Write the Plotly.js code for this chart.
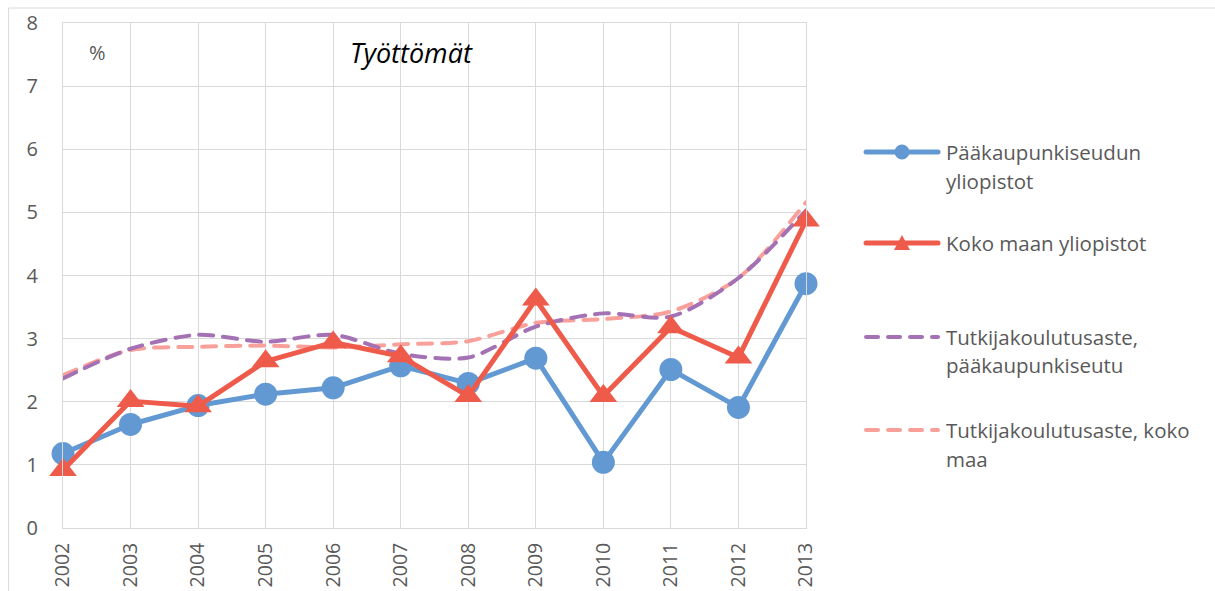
<!DOCTYPE html>
<html>
<head>
<meta charset="utf-8">
<script src="https://cdn.plot.ly/plotly-3.0.1.min.js"></script>
<style>
  html, body { margin: 0; padding: 0; background: #fff; }
  #chart { width: 1215px; height: 591px; }
  .scatterlayer .js-line { stroke-linecap: round; stroke-linejoin: round; }
  .shapelayer path { stroke-linecap: round; }
</style>
</head>
<body>
<div id="chart"></div>
<script>
const years = [2002, 2003, 2004, 2005, 2006, 2007, 2008, 2009, 2010, 2011, 2012, 2013];
const yTicks = [0, 1, 2, 3, 4, 5, 6, 7, 8];
const seriesNames = [
  "Pääkaupunkiseudun yliopistot",
  "Koko maan yliopistot",
  "Tutkijakoulutusaste, pääkaupunkiseutu",
  "Tutkijakoulutusaste, koko maa"
];
const legendLines = [
  ["Pääkaupunkiseudun", "yliopistot"],
  ["Koko maan yliopistot"],
  ["Tutkijakoulutusaste,", "pääkaupunkiseutu"],
  ["Tutkijakoulutusaste, koko", "maa"]
];
const pkYliopistot = [1.18, 1.64, 1.94, 2.12, 2.22, 2.57, 2.29, 2.69, 1.04, 2.51, 1.91, 3.87];
const kokoMaaYliopistot = [0.92, 2.01, 1.93, 2.64, 2.94, 2.72, 2.09, 3.62, 2.09, 3.18, 2.70, 4.87];
const tutkijaPk = [2.37, 2.84, 3.06, 2.95, 3.06, 2.76, 2.70, 3.19, 3.40, 3.35, 3.96, 5.03];
const tutkijaKoko = [2.42, 2.82, 2.87, 2.89, 2.86, 2.91, 2.96, 3.25, 3.31, 3.43, 3.96, 5.16];
const chartTitle = "Työttömät";
const unitLabel = "%";

const blue = "#6399d3", red = "#ee5b4b", purple = "#a371b4", pink = "#f9a09a";
const txt = "#595959", grid = "#d9d9d9";
const FONT = "Open Sans, sans-serif";

const traces = [
  { x: years, y: tutkijaKoko, name: seriesNames[3], mode: "lines", line: { color: pink, width: 4, dash: "14px,10px", shape: "spline", smoothing: 0.8 }, cliponaxis: false },
  { x: years, y: tutkijaPk, name: seriesNames[2], mode: "lines", line: { color: purple, width: 4, dash: "14px,10px", shape: "spline", smoothing: 0.8 }, cliponaxis: false },
  { x: years, y: pkYliopistot, name: seriesNames[0], mode: "lines+markers", line: { color: blue, width: 5 }, marker: { symbol: "circle", size: 23, color: blue }, cliponaxis: false },
  { x: years, y: kokoMaaYliopistot, name: seriesNames[1], mode: "lines+markers", line: { color: red, width: 5 }, marker: { symbol: "triangle-up", size: 24, color: red }, cliponaxis: false }
];

// legend geometry (paper coords)
const lx0 = 1.0808, lx1 = 1.1777, lxc = 1.1292, ltx = 1.1857;
const legendY = [[0.7446, 0.6871], [0.5644], [0.3782, 0.3228], [0.1941, 0.1366]];
const legendColors = [blue, red, purple, pink];

const shapes = [
  { type: "rect", xref: "paper", yref: "paper", x0: -0.0727, x1: 1.6, y0: -0.2, y1: 1.0297, line: { color: grid, width: 1 }, layer: "below" }
];
legendColors.forEach((c, i) => {
  const y = legendY[i][0];
  shapes.push({ type: "line", xref: "paper", yref: "paper", x0: lx0, x1: lx1, y0: y, y1: y,
    line: { color: c, width: i < 2 ? 5 : 4, dash: i < 2 ? "solid" : "12px,10px" } });
});
shapes.push({ type: "circle", xref: "paper", yref: "paper", xsizemode: "pixel", ysizemode: "pixel",
  xanchor: lxc, yanchor: legendY[0][0], x0: -7.5, x1: 7.5, y0: -7.5, y1: 7.5, fillcolor: blue, line: { width: 0 } });
shapes.push({ type: "path", xref: "paper", yref: "paper", xsizemode: "pixel", ysizemode: "pixel",
  xanchor: lxc, yanchor: legendY[1][0], path: "M-8,-7 L8,-7 L0,8 Z", fillcolor: red, line: { width: 0 } });

const annotations = [
  { text: chartTitle, xref: "paper", yref: "paper", x: 0.4684, y: 0.9406, xanchor: "center", yanchor: "middle", showarrow: false,
    font: { family: FONT, size: 27, color: "#000000", style: "italic" } },
  { text: unitLabel, xref: "paper", yref: "paper", x: 0.0458, y: 0.9406, xanchor: "center", yanchor: "middle", showarrow: false,
    font: { family: FONT, size: 20, color: txt } }
];
legendLines.forEach((lines, i) => {
  lines.forEach((t, j) => {
    annotations.push({ text: t, xref: "paper", yref: "paper", x: ltx, y: legendY[i][j], xanchor: "left", yanchor: "middle",
      showarrow: false, font: { family: FONT, size: 20.5, color: txt } });
  });
});

const layout = {
  width: 1215, height: 591,
  margin: { l: 63, r: 409, t: 23, b: 63 },
  paper_bgcolor: "#ffffff", plot_bgcolor: "#ffffff",
  showlegend: false,
  font: { family: FONT, color: txt },
  xaxis: {
    range: [2002, 2013], tickvals: years, ticktext: years.map(String), tickangle: -90,
    showgrid: true, gridcolor: grid, gridwidth: 1, zeroline: false,
    showline: true, mirror: true, linecolor: grid, linewidth: 1,
    ticks: "", ticklabelstandoff: 6, tickfont: { family: FONT, size: 19.5, color: txt }
  },
  yaxis: {
    range: [0, 8], tickvals: yTicks, showgrid: true, gridcolor: grid, gridwidth: 1, zeroline: false,
    showline: true, mirror: true, linecolor: grid, linewidth: 1,
    ticks: "", ticklabelstandoff: 20, tickfont: { family: FONT, size: 20, color: txt }
  },
  shapes: shapes,
  annotations: annotations
};

Plotly.newPlot("chart", traces, layout, { displayModeBar: false, staticPlot: true });
</script>
</body>
</html>
